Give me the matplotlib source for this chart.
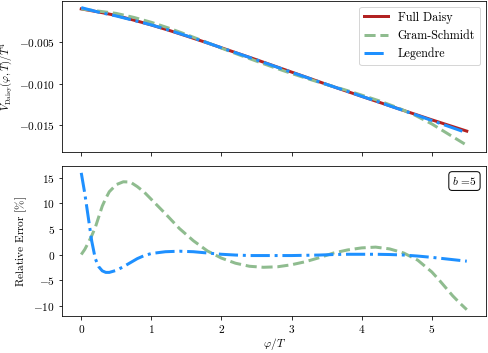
import numpy as np
import matplotlib
matplotlib.use("Agg")
import matplotlib.pyplot as plt

plt.rcParams["font.family"] = ["cmr10", "DejaVu Serif"]
plt.rcParams["mathtext.fontset"] = "cm"
plt.rcParams["axes.formatter.use_mathtext"] = True
plt.rcParams["font.size"] = 11.3

# ---------------- potential (top panel) ----------------
phi_top = [0.0, 0.25, 0.5, 0.75, 1.0, 1.25, 1.5, 1.75, 2.0, 2.25, 2.5, 2.75,
           3.0, 3.25, 3.5, 3.75, 4.0, 4.25, 4.5, 4.75, 5.0, 5.25, 5.5]
V_full = [-0.00103, -0.00140, -0.00182, -0.00238, -0.00296, -0.00360, -0.00428,
          -0.00498, -0.00570, -0.00642, -0.00714, -0.00788, -0.00862, -0.00936,
          -0.01010, -0.01082, -0.01154, -0.01225, -0.01296, -0.01366, -0.01436,
          -0.01504, -0.01572]
V_gs = [-0.00103, -0.00130, -0.00157, -0.00205, -0.00264, -0.00334, -0.00411,
        -0.00492, -0.00574, -0.00654, -0.00731, -0.00807, -0.00879, -0.00947,
        -0.01012, -0.01073, -0.01139, -0.01208, -0.01286, -0.01376, -0.01485,
        -0.01614, -0.01742]
V_leg = [-0.00087, -0.00143, -0.00188, -0.00241, -0.00295, -0.00358, -0.00425,
         -0.00496, -0.00570, -0.00643, -0.00715, -0.00790, -0.00864, -0.00937,
         -0.01010, -0.01081, -0.01153, -0.01224, -0.01297, -0.01369, -0.01444,
         -0.01518, -0.01592]

# ---------------- relative error (bottom panel) ----------------
phi_err = [0.0, 0.05, 0.1, 0.15, 0.2, 0.25, 0.3, 0.35, 0.4, 0.5, 0.6, 0.7, 0.8,
           0.9, 1.0, 1.2, 1.4, 1.6, 1.8, 2.0, 2.2, 2.4, 2.6, 2.8, 3.0, 3.2, 3.4,
           3.6, 3.8, 4.0, 4.2, 4.4, 4.6, 4.8, 5.0, 5.1, 5.2, 5.3, 5.4, 5.5]
err_gs = [0.0, 1.0, 2.3, 3.7, 5.3, 7.4, 9.5, 11.0, 12.3, 13.7, 14.25, 14.2, 13.3,
          12.2, 10.8, 8.0, 5.1, 2.7, 0.7, -0.7, -1.7, -2.3, -2.5, -2.4, -2.0,
          -1.4, -0.6, 0.3, 0.9, 1.3, 1.45, 1.1, 0.3, -1.1, -3.4, -4.9, -6.5,
          -8.1, -9.5, -10.8]
err_leg = [16.0, 12.0, 7.3, 2.6, -0.8, -2.4, -3.2, -3.5, -3.5, -3.1, -2.4, -1.6,
           -0.8, -0.2, 0.2, 0.55, 0.65, 0.55, 0.3, 0.05, -0.1, -0.2, -0.2, -0.2,
           -0.2, -0.15, -0.1, 0.0, 0.05, 0.05, 0.05, 0.0, -0.1, -0.3, -0.55,
           -0.7, -0.85, -1.0, -1.15, -1.3]

c_full = "firebrick"
c_gs = "darkseagreen"
c_leg = "dodgerblue"
lw = 3

fig = plt.figure(figsize=(488 / 72, 353 / 72), dpi=72)
ax1 = fig.add_axes([0.127, 0.569, 0.869, 0.429])
ax2 = fig.add_axes([0.127, 0.1034, 0.869, 0.4263], sharex=ax1)

ax1.plot(phi_top, V_full, color=c_full, lw=lw, ls="-", label="Full Daisy")
ax1.plot(phi_top, V_gs, color=c_gs, lw=lw, ls="--", label="Gram-Schmidt")
ax1.plot(phi_top, V_leg, color=c_leg, lw=lw, ls="-.", label="Legendre")
ax1.set_yticks([-0.015, -0.010, -0.005])
ax1.set_ylabel(r"$V_{\rm Daisy}(\varphi,T)/T^4$", fontsize=10.5)
ax1.yaxis.set_label_coords(-0.112, 0.5)
ax1.legend(loc="upper right", fontsize=12)
ax1.tick_params(labelbottom=False)

ax2.plot(phi_err, err_gs, color=c_gs, lw=lw, ls="--")
ax2.plot(phi_err, err_leg, color=c_leg, lw=lw, ls="-.")
ax2.set_yticks([-10, -5, 0, 5, 10, 15])
ax2.set_xticks([0, 1, 2, 3, 4, 5])
ax2.set_ylabel(r"Relative Error $[\%]$")
ax2.set_xlabel(r"$\varphi/T$", labelpad=1)
ax2.text(0.978, 0.94, r"$b$ =5", transform=ax2.transAxes, ha="right", va="top",
         bbox=dict(boxstyle="round", fc="white", ec="black"))

fig.savefig("out.png", dpi=72)
